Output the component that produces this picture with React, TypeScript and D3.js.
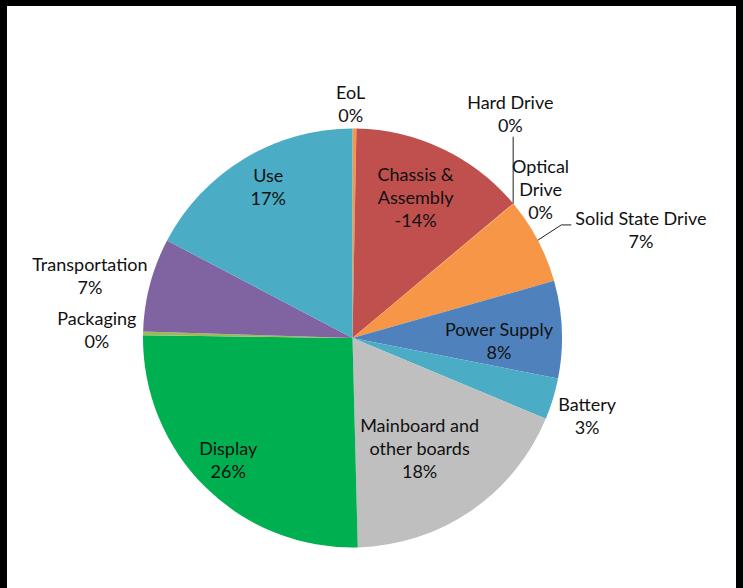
import React, { useEffect, useRef } from 'react';
import * as d3 from 'd3';

// slice values in percent (Chassis is a credit, drawn by its absolute size)
const categories = [
  'EoL', 'Chassis & Assembly', 'Hard Drive', 'Optical Drive', 'Solid State Drive',
  'Power Supply', 'Battery', 'Mainboard and other boards', 'Display',
  'Packaging', 'Transportation', 'Use',
];
const values = [0.3, -13.6, 0.02, 0.02, 6.66, 7.5, 3.2, 18.3, 25.6, 0.3, 7.2, 17.3];
const labelLines = [
  ['EoL'], ['Chassis &', 'Assembly'], ['Hard Drive'], ['Optical', 'Drive'],
  ['Solid State Drive'], ['Power Supply'], ['Battery'], ['Mainboard and', 'other boards'],
  ['Display'], ['Packaging'], ['Transportation'], ['Use'],
];
const colors = [
  '#F79646', '#C0504D', '#C0504D', '#F79646', '#F79646', '#4F81BD',
  '#4BACC6', '#BFBFBF', '#00B050', '#9BBB59', '#8064A2', '#4BACC6',
];

// label placement: radius factor and angle nudge (deg) from slice middle
const labelPlace: Record<string, { k: number; nudge: number; leader?: string }> = {
  'EoL': { k: 1.122, nudge: -1 },
  'Chassis & Assembly': { k: 0.739, nudge: -1.5 },
  'Hard Drive': { k: 1.311, nudge: -15, leader: 'vertical' },
  'Optical Drive': { k: 1.148, nudge: 1.3 },
  'Solid State Drive': { k: 1.471, nudge: 7.2, leader: 'elbow' },
  'Power Supply': { k: 0.699, nudge: 3.3 },
  'Battery': { k: 1.179, nudge: 1.3 },
  'Mainboard and other boards': { k: 0.612, nudge: 2.8 },
  'Display': { k: 0.827, nudge: 1.2 },
  'Packaging': { k: 1.221, nudge: 0.7 },
  'Transportation': { k: 1.289, nudge: -1.3 },
  'Use': { k: 0.829, nudge: 2.1 },
};

const W = 743, H = 588;
const cx = 352.5, cy = 338, R = 209.5;
const lineH = 23;

const App = () => {
  const ref = useRef<SVGSVGElement>(null);

  useEffect(() => {
    const svg = d3.select(ref.current);
    svg.selectAll('*').remove();

    svg.append('rect').attr('width', W).attr('height', H).attr('fill', '#fff');
    // frame edges
    svg.append('rect').attr('x', 0).attr('y', 0).attr('width', 7).attr('height', H).attr('fill', '#000');
    svg.append('rect').attr('x', 0).attr('y', 0).attr('width', W).attr('height', 6).attr('fill', '#000');
    svg.append('rect').attr('x', 736).attr('y', 0).attr('width', 7).attr('height', H).attr('fill', '#000');

    const data = categories.map((c, i) => ({ name: c, value: values[i], color: colors[i], lines: labelLines[i] }));
    const pie = d3.pie<typeof data[0]>().sort(null).value(d => Math.abs(d.value));
    const arcs = pie(data);
    const arc = d3.arc<d3.PieArcDatum<typeof data[0]>>().innerRadius(0).outerRadius(R);

    const g = svg.append('g').attr('transform', `translate(${cx},${cy})`);
    g.selectAll('path')
      .data(arcs)
      .enter()
      .append('path')
      .attr('d', arc)
      .attr('fill', d => d.data.color);

    const polar = (a: number, r: number): [number, number] => [r * Math.sin(a), -r * Math.cos(a)];

    arcs.forEach(d => {
      const p = labelPlace[d.data.name];
      const mid = (d.startAngle + d.endAngle) / 2;
      const [lx, ly] = polar(mid + (p.nudge * Math.PI) / 180, R * p.k);
      const lines = [...d.data.lines, `${Math.round(d.data.value)}%`];
      const n = lines.length;
      const t = g.append('text')
        .attr('text-anchor', 'middle')
        .attr('font-family', 'Lato, sans-serif')
        .attr('font-size', 18)
        .attr('fill', '#111');
      lines.forEach((s, i) => {
        t.append('tspan')
          .attr('x', lx)
          .attr('y', ly + (i - (n - 1) / 2) * lineH + 7.5)
          .text(s);
      });

      const [ax, ay] = polar(mid, R);
      if (p.leader === 'vertical') {
        const top = ly + ((n - 1) / 2) * lineH + 12;
        g.append('path')
          .attr('d', `M${ax},${ay}L${ax},${top}`)
          .attr('stroke', '#222').attr('stroke-width', 1).attr('fill', 'none');
      }
      if (p.leader === 'elbow') {
        const w = (t.node() as SVGTextElement).getBBox().width;
        const endX = lx - w / 2 - 4;
        const yy = ly - 4.5;
        g.append('path')
          .attr('d', `M${ax},${ay}L${endX - 10},${yy}L${endX},${yy}`)
          .attr('stroke', '#222').attr('stroke-width', 1).attr('fill', 'none');
      }
    });
  }, []);

  return <svg ref={ref} width={W} height={H} style={{ position: 'absolute', left: 0, top: 0 }} />;
};

export default App;
